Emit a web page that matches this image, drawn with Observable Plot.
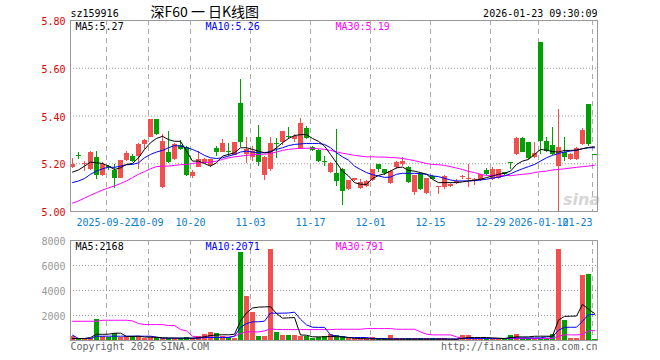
<!DOCTYPE html>
<html><head><meta charset="utf-8">
<script src="https://cdn.jsdelivr.net/npm/d3@7"></script>
<script src="https://cdn.jsdelivr.net/npm/@observablehq/plot@0.6"></script>
<style>
body{margin:0;background:#fff;}
#chart{position:relative;width:660px;height:360px;overflow:hidden;background:#fff;}
#chart svg{display:block;}
</style></head><body><div id="chart"></div>
<script>
const dates = [
"2025-09-12","2025-09-15","2025-09-16","2025-09-17","2025-09-18","2025-09-19","2025-09-22","2025-09-23","2025-09-24","2025-09-25","2025-09-26","2025-09-29","2025-09-30",
"2025-10-09","2025-10-10","2025-10-13","2025-10-14","2025-10-15","2025-10-16","2025-10-17","2025-10-20","2025-10-21","2025-10-22","2025-10-23","2025-10-24","2025-10-27","2025-10-28","2025-10-29","2025-10-30","2025-10-31",
"2025-11-03","2025-11-04","2025-11-05","2025-11-06","2025-11-07","2025-11-10","2025-11-11","2025-11-12","2025-11-13","2025-11-14","2025-11-17","2025-11-18","2025-11-19","2025-11-20","2025-11-21","2025-11-24","2025-11-25","2025-11-26","2025-11-27","2025-11-28",
"2025-12-01","2025-12-02","2025-12-03","2025-12-04","2025-12-05","2025-12-08","2025-12-09","2025-12-10","2025-12-11","2025-12-12","2025-12-15","2025-12-16","2025-12-17","2025-12-18","2025-12-19","2025-12-22","2025-12-23","2025-12-24","2025-12-25","2025-12-26","2025-12-29","2025-12-30","2025-12-31",
"2026-01-05","2026-01-06","2026-01-07","2026-01-08","2026-01-09","2026-01-12","2026-01-13","2026-01-14","2026-01-15","2026-01-16","2026-01-19","2026-01-20","2026-01-21","2026-01-22","2026-01-23"];

const open = [5.186,5.232,5.196,5.174,5.228,5.151,5.190,5.172,5.140,5.215,
5.232,5.229,5.279,5.311,5.385,5.100,5.246,5.218,5.278,5.267,
5.146,5.186,5.201,5.193,5.262,5.249,5.250,5.235,5.451,5.239,
5.225,5.310,5.149,5.174,5.285,5.290,5.314,5.301,5.263,5.347,
5.267,5.256,5.210,5.163,5.160,5.176,5.093,5.129,5.097,5.104,
5.128,5.197,5.176,5.118,5.183,5.196,5.185,5.079,5.158,5.075,
5.147,5.100,5.100,5.104,5.118,5.143,5.133,5.128,5.128,5.172,
5.135,5.138,5.163,5.201,5.239,5.306,5.288,5.225,5.708,5.292,
5.276,5.190,5.249,5.218,5.218,5.281,5.447,5.238];
const close = [5.197,5.229,5.200,5.246,5.151,5.196,5.186,5.140,5.214,5.242,
5.208,5.281,5.297,5.385,5.322,5.293,5.207,5.280,5.260,5.149,
5.165,5.218,5.218,5.218,5.249,5.285,5.246,5.288,5.290,5.260,
5.253,5.207,5.226,5.283,5.280,5.333,5.310,5.315,5.368,5.305,
5.256,5.210,5.207,5.201,5.126,5.082,5.128,5.139,5.121,5.126,
5.174,5.176,5.158,5.167,5.207,5.210,5.121,5.149,5.093,5.137,
5.135,5.101,5.146,5.114,5.124,5.145,5.137,5.135,5.153,5.153,
5.176,5.176,5.153,5.199,5.306,5.249,5.222,5.243,5.294,5.253,
5.239,5.267,5.228,5.239,5.264,5.340,5.281,5.236];
const high = [5.222,5.246,5.210,5.250,5.251,5.207,5.193,5.197,5.215,5.251,
5.239,5.283,5.300,5.385,5.385,5.321,5.333,5.285,5.297,5.274,
5.170,5.253,5.220,5.218,5.271,5.301,5.285,5.290,5.554,5.311,
5.274,5.360,5.232,5.310,5.304,5.336,5.350,5.322,5.389,5.354,
5.271,5.260,5.232,5.204,5.343,5.179,5.130,5.140,5.135,5.130,
5.176,5.197,5.176,5.172,5.211,5.225,5.188,5.151,5.163,5.140,
5.149,5.101,5.149,5.116,5.135,5.151,5.197,5.137,5.155,5.179,
5.186,5.178,5.165,5.207,5.308,5.308,5.290,5.288,5.708,5.308,
5.350,5.426,5.308,5.242,5.270,5.347,5.447,5.238];
const low = [5.182,5.218,5.168,5.170,5.135,5.146,5.170,5.097,5.137,5.210,
5.204,5.174,5.260,5.310,5.320,5.097,5.200,5.215,5.257,5.146,
5.137,5.183,5.200,5.183,5.232,5.246,5.232,5.233,5.267,5.200,
5.211,5.188,5.128,5.169,5.221,5.276,5.300,5.288,5.260,5.301,
5.253,5.204,5.188,5.160,5.103,5.024,5.090,5.125,5.093,5.100,
5.124,5.163,5.149,5.114,5.176,5.190,5.118,5.065,5.090,5.072,
5.133,5.072,5.093,5.100,5.114,5.132,5.100,5.107,5.126,5.149,
5.131,5.135,5.150,5.176,5.235,5.246,5.218,5.222,5.239,5.246,
5.236,4.900,5.211,5.215,5.215,5.278,5.274,5.236];
const volume = [350,160,160,160,1700,290,210,560,240,290,
345,345,130,240,240,160,160,160,160,240,
130,290,500,660,560,345,240,160,7065,3530,
2260,345,290,7280,660,425,425,425,345,345,
130,240,345,500,425,290,130,130,130,130,
250,130,130,425,130,130,130,130,130,130,
130,130,130,80,80,425,425,130,130,130,
80,80,130,425,500,130,130,130,130,130,
500,7280,1620,190,190,5200,5290,80];

const ma5 = [5.165,5.174,5.190,5.207,5.204,5.201,5.190,5.176,5.183,5.197,
5.201,5.225,5.260,5.288,5.306,5.315,5.301,5.294,5.294,5.253,
5.211,5.211,5.201,5.190,5.204,5.232,5.239,5.246,5.267,5.267,
5.260,5.253,5.246,5.249,5.267,5.288,5.306,5.318,5.322,5.322,
5.306,5.294,5.274,5.239,5.204,5.169,5.149,5.121,5.114,5.114,
5.138,5.151,5.158,5.169,5.183,5.186,5.172,5.169,5.163,5.156,
5.135,5.121,5.121,5.121,5.121,5.124,5.128,5.131,5.135,5.142,
5.149,5.156,5.160,5.169,5.197,5.211,5.218,5.239,5.260,5.257,
5.251,5.249,5.256,5.256,5.257,5.263,5.268,5.271];
const ma10 = [5.121,5.128,5.138,5.156,5.169,5.179,5.186,5.185,5.190,5.196,
5.197,5.204,5.225,5.239,5.249,5.256,5.267,5.276,5.274,5.267,
5.260,5.249,5.235,5.225,5.222,5.225,5.232,5.239,5.249,5.253,
5.249,5.246,5.246,5.251,5.260,5.267,5.276,5.281,5.283,5.285,
5.285,5.285,5.281,5.267,5.246,5.229,5.215,5.190,5.176,5.163,
5.154,5.149,5.143,5.144,5.156,5.160,5.160,5.160,5.158,5.156,
5.149,5.146,5.139,5.132,5.128,5.128,5.128,5.129,5.132,5.135,
5.140,5.144,5.149,5.158,5.169,5.179,5.188,5.197,5.211,5.225,
5.235,5.243,5.249,5.253,5.257,5.263,5.267,5.267];
const ma30 = [5.035,5.044,5.056,5.068,5.079,5.090,5.099,5.107,5.117,5.128,
5.142,5.156,5.167,5.179,5.188,5.190,5.190,5.193,5.196,5.197,
5.201,5.204,5.206,5.207,5.211,5.218,5.225,5.229,5.232,5.235,
5.238,5.239,5.240,5.243,5.249,5.256,5.260,5.263,5.264,5.265,
5.265,5.263,5.260,5.256,5.250,5.244,5.240,5.235,5.232,5.229,
5.229,5.228,5.228,5.226,5.225,5.222,5.218,5.213,5.207,5.201,
5.197,5.196,5.193,5.188,5.182,5.176,5.168,5.163,5.156,5.151,
5.151,5.153,5.151,5.150,5.153,5.156,5.158,5.163,5.167,5.169,
5.174,5.176,5.179,5.182,5.185,5.188,5.190,5.194];

const vma5 = [160,160,160,240,505,495,505,580,590,330,
330,350,280,275,260,225,200,200,190,190,
190,220,300,400,440,460,455,500,1550,2200,
2600,2670,2690,2700,2160,1790,1810,1840,440,425,
300,290,290,330,300,290,240,185,160,135,
125,115,110,110,110,110,110,110,110,110,
110,110,110,105,105,185,240,240,240,240,
210,185,160,230,290,290,290,340,345,345,
345,1634,1930,1944,1956,2896,2498,2168];
const vma10 = [425,160,160,160,345,345,345,345,345,345,
345,345,345,345,265,185,185,185,185,185,
185,185,240,240,240,240,240,345,1050,1355,
1490,1500,1545,2200,2180,2190,2200,2270,1700,1250,
1060,1050,1050,450,360,300,240,240,240,240,
160,160,160,130,130,130,130,130,130,130,
130,130,130,130,130,160,160,160,160,160,
160,160,160,210,210,210,210,210,210,290,
290,825,1050,1060,1060,1550,2066,2071];
const vma30 = [1540,1540,1540,1540,1540,1620,1620,1620,1620,1620,
1570,1355,1275,1275,1275,1275,1195,1195,875,770,
345,265,265,265,265,265,265,345,560,690,
690,690,770,930,875,875,875,875,875,875,
875,875,875,875,900,900,900,900,900,955,
955,955,955,955,900,900,900,900,690,505,
450,450,450,450,290,160,160,160,160,160,
160,160,160,160,160,160,160,160,160,160,
160,345,450,450,450,480,770,791];

const tickDates = ["2025-09-22","2025-10-09","2025-10-20","2025-11-03","2025-11-17","2025-12-01","2025-12-15","2025-12-29","2026-01-12","2026-01-23"];
const tickLabels = ["2025-09-22","10-09","10-20","11-03","11-17","12-01","12-15","12-29","2026-01-12","01-23"];
const priceTicks = [5.00,5.20,5.40,5.60,5.80];
const volTicks = [2000,4000,6000,8000];
const priceLegend = ["MA5:5.27","MA10:5.26","MA30:5.19"];
const volLegend = ["MA5:2168","MA10:2071","MA30:791"];
const header = {code:"sz159916", title:"深F60 一 日K线图", time:"2026-01-23 09:30:09"};
const footer = {left:"Copyright 2026 SINA.COM", right:"http://finance.sina.com.cn"};

const RED = "#f24f4f", GREEN = "#00a000", BLUE_TXT = "#0a80d0";
const MA_COLORS = ["#000000","#0000ff","#ff00ff"];
const LEGEND_DX = [5,135,265];
const FONT = "'DejaVu Sans Mono', monospace";

const rows = dates.map((d,i)=>({i, d, o:open[i], h:high[i], l:low[i], c:close[i], v:volume[i],
  m5:ma5[i], m10:ma10[i], m30:ma30[i], v5:vma5[i], v10:vma10[i], v30:vma30[i]}));
const up = r => r.c > r.o;
const col = r => up(r) ? RED : GREEN;
const tickIdx = tickDates.map(t => dates.indexOf(t));
const xDomain = [0, 87.833];
const cx = r => r.i + 2/6;

const legendMarks = (labels) => labels.map((t,k) => Plot.text([t], {frameAnchor:"top-left", dx:LEGEND_DX[k], dy:2, lineAnchor:"top", textAnchor:"start", fill:MA_COLORS[k]}));

const price = Plot.plot({
  width:660, height:232, marginLeft:70, marginRight:63, marginTop:20, marginBottom:21,
  x:{domain:xDomain, axis:null},
  y:{domain:[5.0,5.8], axis:null},
  color:{type:"identity"},
  style:{fontFamily:FONT, fontSize:"10px", overflow:"visible", background:"transparent"},
  marks:[
    Plot.ruleY([5.2,5.4,5.6], {stroke:"#999", strokeDasharray:"1,2"}),
    Plot.ruleX(tickIdx, {stroke:"#aaa", strokeDasharray:"5,4"}),
    Plot.text(["sina"], {frameAnchor:"bottom-right", dx:-16, dy:-7, textAnchor:"middle", fontStyle:"italic", fontWeight:"bold", fontSize:16, fontFamily:"'DejaVu Sans'", fill:"#d6d6d6"}),
    Plot.ruleX(rows, {x:cx, y1:"l", y2:"h", stroke:col, clip:true, shapeRendering:"crispEdges"}),
    Plot.rect(rows, {x1:"i", x2:r=>r.i+5/6, y1:r=>Math.min(r.o,r.c), y2:r=>Math.max(Math.max(r.o,r.c), Math.min(r.o,r.c)+1/240), fill:col, dx:-0.5, shapeRendering:"crispEdges"}),
    Plot.line(rows, {x:cx, y:"m30", stroke:MA_COLORS[2], strokeWidth:1}),
    Plot.line(rows, {x:cx, y:"m10", stroke:MA_COLORS[1], strokeWidth:1}),
    Plot.line(rows, {x:cx, y:"m5", stroke:MA_COLORS[0], strokeWidth:1}),
    Plot.frame({stroke:"#999"}),
    Plot.text(priceTicks, {frameAnchor:"left", y:d=>d, text:d=>d.toFixed(2), textAnchor:"end", dx:-5, dy:1.5, fill:"#e00000"}),
    Plot.text(tickIdx.slice(0,-1), {x:d=>d, text:(d,k)=>tickLabels[k], frameAnchor:"bottom", lineAnchor:"top", dy:7, fill:BLUE_TXT}),
    Plot.text(tickIdx.slice(-1), {x:d=>d, text:()=>tickLabels[tickLabels.length-1], frameAnchor:"bottom", lineAnchor:"top", textAnchor:"end", dy:7, fill:BLUE_TXT}),
    Plot.text([header.code], {frameAnchor:"top-left", textAnchor:"start", lineAnchor:"bottom", dy:-3.5, fill:"#000"}),
    Plot.text([header.title], {frameAnchor:"top-left", dx:80, textAnchor:"start", lineAnchor:"bottom", dy:-4, fill:"#000", fontFamily:"'Noto Sans CJK SC'", fontSize:14}),
    Plot.text([header.time], {frameAnchor:"top-right", textAnchor:"end", lineAnchor:"bottom", dy:-4, fill:"#000"}),
    ...legendMarks(priceLegend)
  ]
});

const vol = Plot.plot({
  width:660, height:128, marginLeft:70, marginRight:63, marginTop:8, marginBottom:20,
  x:{domain:xDomain, axis:null},
  y:{domain:[0,8000], axis:null},
  color:{type:"identity"},
  style:{fontFamily:FONT, fontSize:"10px", overflow:"visible", background:"transparent"},
  marks:[
    Plot.ruleY([2000,4000,6000], {stroke:"#999", strokeDasharray:"1,2"}),
    Plot.ruleX(tickIdx, {stroke:"#aaa", strokeDasharray:"5,4"}),
    Plot.rect(rows, {x1:"i", x2:r=>r.i+5/6, y1:0, y2:"v", fill:col, dx:-0.5, shapeRendering:"crispEdges"}),
    Plot.line(rows, {x:cx, y:"v30", stroke:MA_COLORS[2], strokeWidth:1}),
    Plot.line(rows, {x:cx, y:"v10", stroke:MA_COLORS[1], strokeWidth:1}),
    Plot.line(rows, {x:cx, y:"v5", stroke:MA_COLORS[0], strokeWidth:1}),
    Plot.frame({stroke:"#999"}),
    Plot.text(volTicks, {frameAnchor:"left", y:d=>d, text:d=>String(d), textAnchor:"end", dx:-5, dy:1, fill:"#999"}),
    Plot.text([footer.left], {frameAnchor:"bottom-left", textAnchor:"start", lineAnchor:"top", dy:2, fill:"#666"}),
    Plot.text([footer.right], {frameAnchor:"bottom-right", textAnchor:"end", lineAnchor:"top", dy:2, fill:"#666"}),
    ...legendMarks(volLegend)
  ]
});

const el = document.getElementById("chart");
el.appendChild(price);
el.appendChild(vol);
</script></body></html>
